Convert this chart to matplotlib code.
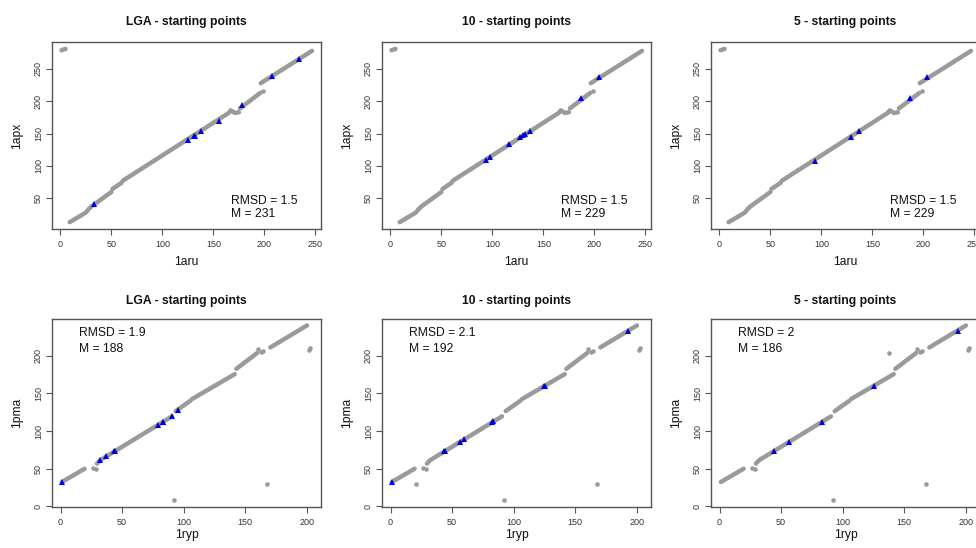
import matplotlib.pyplot as plt

plt.rcParams['font.family'] = ['Liberation Sans', 'DejaVu Sans']

titles = ["LGA - starting points", "10 - starting points", "5 - starting points"]

# top row: 1aru (x) vs 1apx (y), gray alignment runs
top_lines = [
    [(1, 279), (5, 281)],
    [(9, 13), (25, 28)],
    [(26, 30), (28, 34), (29, 35)],
    [(30, 37), (50, 59.8)],
    [(51, 64.5), (60, 74)],
    [(61, 77), (164, 181)],
    [(165, 182), (167, 186), (169, 184), (171, 182), (175, 183)],
    [(176, 189), (196, 213)],
    [(196.4, 228), (246.7, 278)],
]
top_dots = [(198.7, 216.5)]
top_blue = [
    [(33.3, 41.2), (124.7, 140.2), (130.6, 146.4), (131.5, 147), (138.2, 154.6),
     (155.3, 170.1), (178, 194), (207.2, 239.6), (233.5, 265.5)],
    [(93.2, 109.3), (98, 114.4), (116.6, 134), (127.4, 145.3), (129.7, 147.5),
     (131.6, 149.5), (136.6, 154.6), (187, 204.7), (204.3, 238)],
    [(93.5, 108.2), (128.7, 145.3), (136.5, 154.1), (187, 204.7), (204, 238)],
]
top_rmsd = ["1.5", "1.5", "1.5"]
top_m = [231, 229, 229]

# bottom row: 1ryp (x) vs 1pma (y)
bottom_lines = [
    [(1, 32), (19.5, 49.7)],
    [(29.5, 56.5), (32, 61), (90.5, 119.5)],
    [(93.5, 126.5), (105.4, 140.3)],
    [(106.7, 142.5), (141.5, 175.8)],
    [(142.8, 182.9), (159.6, 203.8)],
    [(170.4, 211.4), (200.2, 240.7)],
]
bottom_dots = [(26, 51), (28.5, 50), (160, 209), (162.5, 205), (164.5, 207),
               (202, 208), (203, 210), (92, 8), (168, 30)]
bottom_extra = [[], [(21, 30)], [(137.6, 204.3)]]
bottom_blue = [
    [(1, 32), (32.2, 61.7), (37.1, 67), (43.3, 72.8), (44.5, 73.5), (79.1, 108.3),
     (82.9, 111.9), (83.6, 112.5), (90.5, 119.5), (95.1, 128.3)],
    [(1, 32), (43, 72.8), (44, 73.6), (56.2, 85.2), (60, 89.7), (82.2, 111.9),
     (83.3, 112.8), (124.6, 159.4), (125.4, 160.3), (193, 232.7)],
    [(44, 72.8), (56.5, 85.2), (83.3, 111.9), (125.4, 160.3), (193.7, 232.7)],
]
bottom_rmsd = ["1.9", "2.1", "2"]
bottom_m = [188, 192, 186]

GRAY = "#9a9a9a"
BLUE = "#0000dd"

fig = plt.figure(figsize=(9.76, 5.48), dpi=100)
lefts = [52 / 976, 382 / 976, 711 / 976]
w = 269 / 976


def style(ax, xlim, ylim, xt, yt, xlab, ylab, xlab_y, pad):
    ax.set_xlim(*xlim)
    ax.set_ylim(*ylim)
    ax.set_xticks(xt)
    ax.set_yticks(yt)
    for s in ax.spines.values():
        s.set_color("#555555")
        s.set_linewidth(1.0)
    ax.tick_params(direction="out", length=4, width=0.8, color="#555555",
                   labelsize=6.5, labelcolor="#333333", pad=4)
    ax.tick_params(axis="y", labelrotation=90, pad=2.5)
    for lab in ax.get_yticklabels():
        lab.set_va("center")
    ax.set_xlabel(xlab, fontsize=8.7, color="#111111")
    ax.set_ylabel(ylab, fontsize=8.7, color="#111111")
    ax.xaxis.set_label_coords(0.5, xlab_y)
    ax.xaxis.label.set_va("center")
    ax.yaxis.set_label_coords(-0.13, 0.5)
    ax.yaxis.label.set_va("center")


def draw(ax, lines, dots, blue):
    for seg in lines:
        xs = [p[0] for p in seg]
        ys = [p[1] for p in seg]
        ax.plot(xs, ys, color=GRAY, lw=3.2, solid_capstyle="round",
                solid_joinstyle="round", zorder=2)
    ax.plot([p[0] for p in dots], [p[1] for p in dots], "o", color=GRAY,
            ms=3.3, mew=0, zorder=2)
    ax.plot([p[0] for p in blue], [p[1] for p in blue], "^", color=BLUE,
            ms=4.5, mew=0, zorder=3)


for i in range(3):
    ax = fig.add_axes([lefts[i], 1 - 229 / 548, w, 187 / 548])
    draw(ax, top_lines, top_dots, top_blue[i])
    style(ax, (-8.3, 255.5), (2.5, 291.7), range(0, 251, 50), range(50, 251, 50),
          "1aru", "1apx", -0.177, 12)
    ax.set_title(titles[i], fontsize=8.7, fontweight="bold", pad=12, color="#111111")
    ax.text(0.667, 0.15, "RMSD = " + top_rmsd[i], transform=ax.transAxes,
            fontsize=8.7, va="center", ha="left", color="#111111")
    ax.text(0.667, 0.079, "M = " + str(top_m[i]), transform=ax.transAxes,
            fontsize=8.7, va="center", ha="left", color="#111111")

for i in range(3):
    ax = fig.add_axes([lefts[i], 1 - 507 / 548, w, 188 / 548])
    draw(ax, bottom_lines, bottom_dots + bottom_extra[i], bottom_blue[i])
    style(ax, (-7.0, 211.6), (-1.3, 249.3), range(0, 201, 50), range(0, 201, 50),
          "1ryp", "1pma", -0.15, 11)
    ax.set_title(titles[i], fontsize=8.7, fontweight="bold", pad=11, color="#111111")
    ax.text(0.10, 0.926, "RMSD = " + bottom_rmsd[i], transform=ax.transAxes,
            fontsize=8.7, va="center", ha="left", color="#111111")
    ax.text(0.10, 0.84, "M = " + str(bottom_m[i]), transform=ax.transAxes,
            fontsize=8.7, va="center", ha="left", color="#111111")

fig.savefig("out.png", dpi=100)
